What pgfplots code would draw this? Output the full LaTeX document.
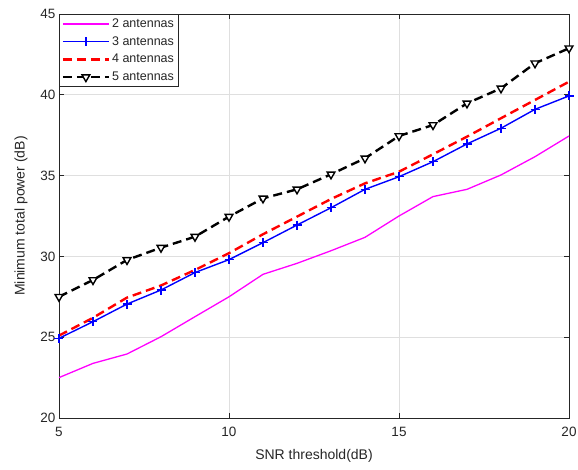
\documentclass[border=0pt]{standalone}
\usepackage{fontspec}
\setmainfont{Liberation Sans}
\usepackage{pgfplots}
\pgfplotsset{compat=1.18}
\definecolor{axgray}{RGB}{38,38,38}
\definecolor{gridgray}{RGB}{223,223,223}
\definecolor{mgnta}{RGB}{255,0,255}
\definecolor{blu}{RGB}{0,0,255}
\definecolor{rd}{RGB}{255,0,0}
\begin{document}
\begin{tikzpicture}[x=1pt,y=1pt]
\path[use as bounding box] (-59,-52) rectangle (519,418);
\begin{axis}[
  at={(0,0)}, anchor=south west,
  scale only axis, width=510pt, height=404pt,
  xmin=5, xmax=20, ymin=20, ymax=45,
  xtick={5,10,15,20}, ytick={20,25,30,35,40,45},
  grid=major,
  major grid style={gridgray, line width=0.6pt},
  axis line style={axgray, line width=0.6pt},
  tick style={axgray, line width=0.6pt},
  tick align=inside, major tick length=5pt,
  ticklabel style={font=\fontsize{13.5}{15}\selectfont, text=axgray},
  xticklabel style={yshift=-6pt},
  /pgf/number format/assume math mode=true,
  xlabel={SNR threshold(dB)},
  ylabel={Minimum total power (dB)},
  label style={font=\fontsize{14}{16}\selectfont, text=axgray},
  xlabel style={yshift=-5pt},
  ylabel style={yshift=6pt},
  legend style={at={(0,1)}, anchor=north west, draw=axgray,
    font=\fontsize{12.5}{14}\selectfont, text=axgray, inner sep=2.5pt,
    row sep=3.6pt, cells={anchor=west}},
  legend cell align=left,
  legend image code/.code={\draw[mark repeat=2,mark phase=2] plot coordinates {(0pt,0pt)(23pt,0pt)(46pt,0pt)};},
]
\addlegendimage{mgnta, line width=1.6pt, mark=none}
\addlegendentry{2 antennas}
\addlegendimage{blu, line width=1.6pt, mark=+, mark size=4.5pt, mark options={solid, line width=1.3pt}}
\addlegendentry{3 antennas}
\addlegendimage{rd, line width=2.4pt, dash pattern=on 9pt off 5pt, mark=none}
\addlegendentry{4 antennas}
\addlegendimage{black, line width=2.4pt, dash pattern=on 9pt off 5pt, mark=triangle*, mark size=4.5pt, mark options={solid, fill=white, rotate=180, line width=1.4pt}}
\addlegendentry{5 antennas}
\addplot[mgnta, line width=1.3pt, mark=none, forget plot] coordinates {
(5,22.5)(6,23.38)(7,23.96)(8,25.03)(9,26.27)(10,27.5)(11,28.89)(12,29.57)(13,30.35)(14,31.18)(15,32.5)(16,33.7)(17,34.15)(18,35.04)(19,36.17)(20,37.45)};
\addplot[blu, line width=1.4pt, mark=+, mark size=4.5pt, mark options={solid, line width=1.3pt}, forget plot] coordinates {
(5,24.93)(6,25.96)(7,27.05)(8,27.92)(9,29.0)(10,29.8)(11,30.85)(12,31.94)(13,33.01)(14,34.15)(15,34.93)(16,35.86)(17,36.96)(18,37.93)(19,39.1)(20,39.93)};
\addplot[rd, line width=2.4pt, dash pattern=on 9pt off 5pt, mark=none, forget plot] coordinates {
(5,25.1)(6,26.2)(7,27.45)(8,28.2)(9,29.16)(10,30.2)(11,31.37)(12,32.46)(13,33.55)(14,34.52)(15,35.24)(16,36.32)(17,37.41)(18,38.55)(19,39.68)(20,40.81)};
\addplot[black, line width=2.4pt, dash pattern=on 9pt off 5pt, mark=triangle*, mark size=4.5pt,
  mark options={solid, fill=white, rotate=180, line width=1.4pt}, forget plot] coordinates {
(5,27.5)(6,28.54)(7,29.78)(8,30.54)(9,31.22)(10,32.46)(11,33.59)(12,34.15)(13,35.08)(14,36.07)(15,37.45)(16,38.13)(17,39.47)(18,40.4)(19,41.95)(20,42.88)};
\end{axis}
\end{tikzpicture}
\end{document}
